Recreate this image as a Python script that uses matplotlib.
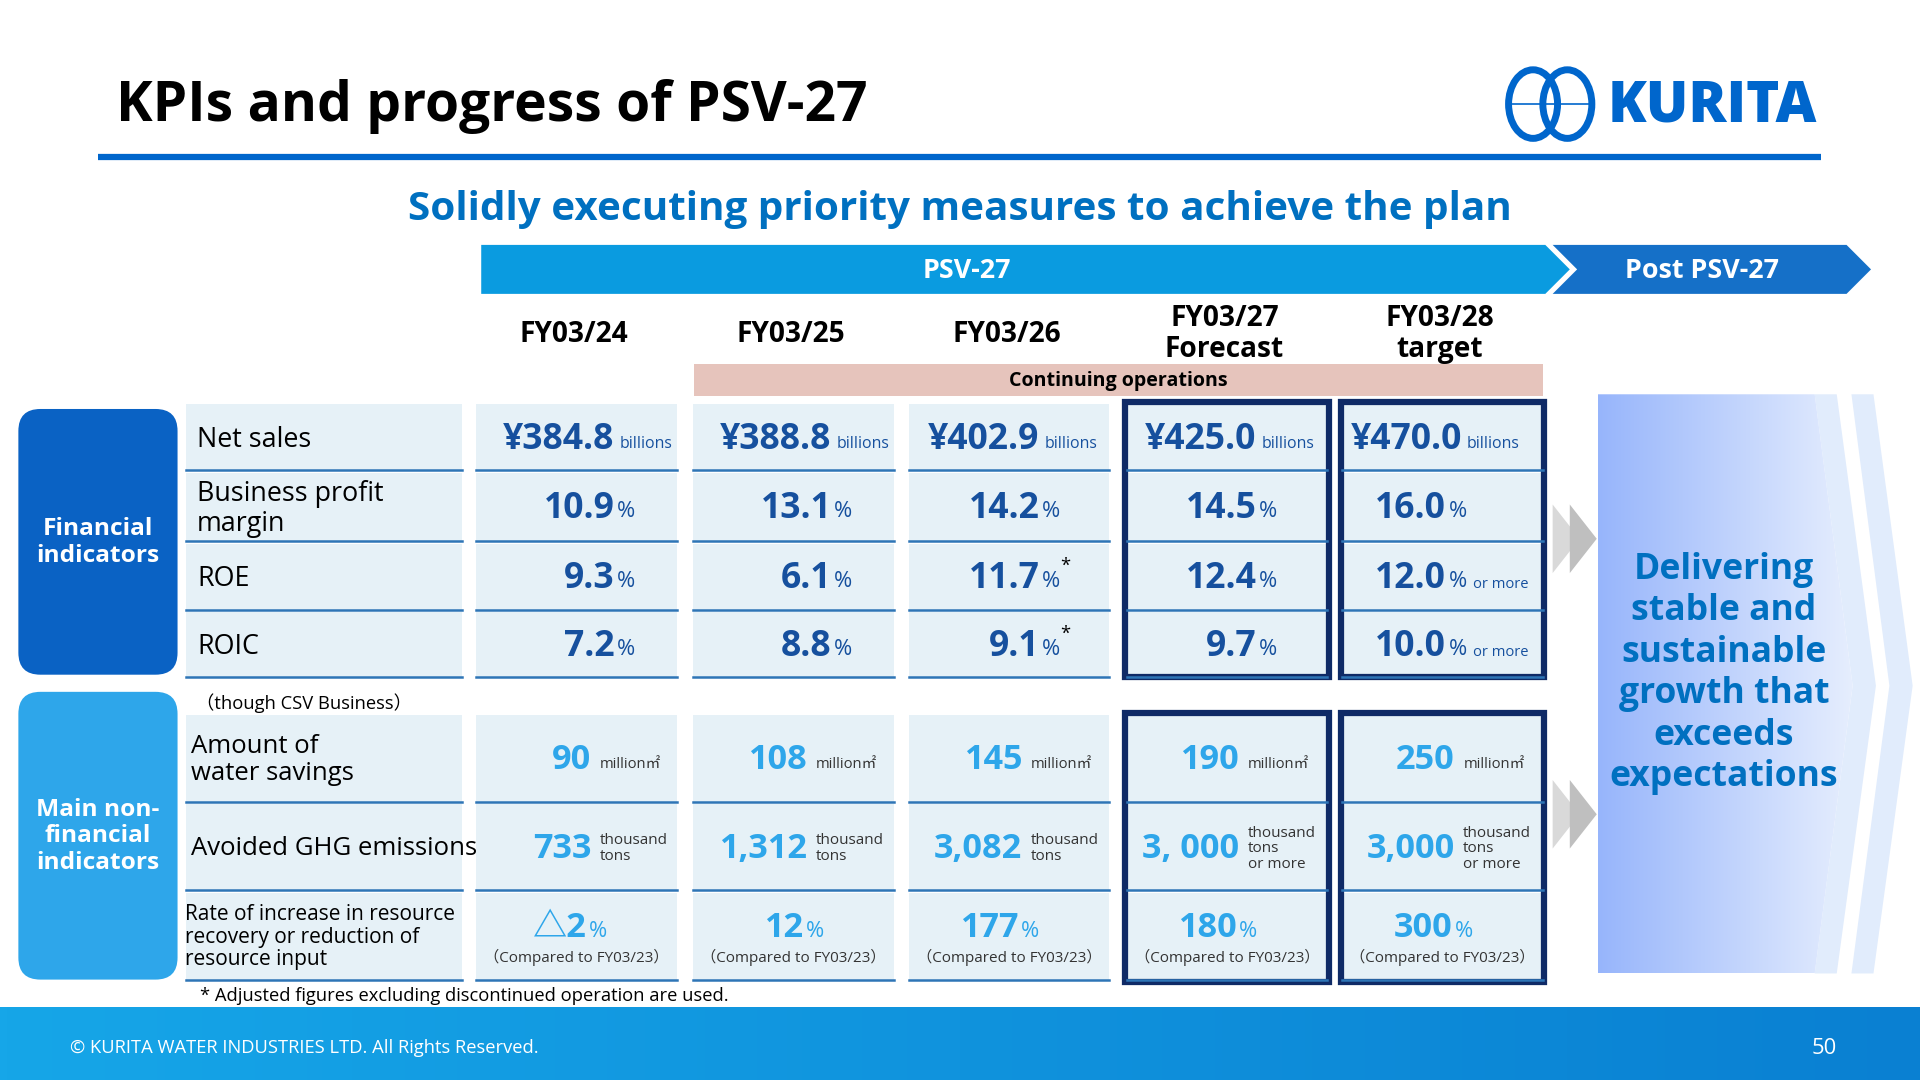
import numpy as np
import matplotlib.pyplot as plt
from matplotlib.patches import Rectangle, FancyBboxPatch, Polygon, Ellipse
from matplotlib.colors import LinearSegmentedColormap

plt.rcParams['font.family'] = ['Open Sans', 'Noto Sans CJK JP', 'DejaVu Sans']

# slide laid out in a 1568 x 882 unit space
W, H = 1568, 882
K = 1920 / W * 72 / 100  # unit px -> pt

NAVY = '#0F2A66'
DARK = '#16509E'
LIGHT = '#2EA6EA'
CELL = '#E6F1F7'
LINE = '#2E75B6'

columns = ['FY03/24', 'FY03/25', 'FY03/26', 'FY03/27\nForecast', 'FY03/28\ntarget']
col_left = [389, 566, 742, 920, 1096]
col_w = 164

fin_labels = ['Net sales', 'Business profit\nmargin', 'ROE', 'ROIC']
fin_values = [['¥384.8', '¥388.8', '¥402.9', '¥425.0', '¥470.0'],
              ['10.9', '13.1', '14.2', '14.5', '16.0'],
              ['9.3', '6.1', '11.7', '12.4', '12.0'],
              ['7.2', '8.8', '9.1', '9.7', '10.0']]
fin_units = [['billions'] * 5,
             ['%'] * 5,
             ['%', '%', '%*', '%', '% or more'],
             ['%', '%', '%*', '%', '% or more']]
fin_rows = [(330, 384), (386, 442), (444, 498), (500, 553)]

non_labels = ['Amount of\nwater savings', 'Avoided GHG emissions',
              'Rate of increase in resource\nrecovery or reduction of\nresource input']
water = ['90', '108', '145', '190', '250']
ghg = ['733', '1,312', '3,082', '3, 000', '3,000']
ghg_units = ['thousand\ntons', 'thousand\ntons', 'thousand\ntons',
             'thousand\ntons\nor more', 'thousand\ntons\nor more']
rate = ['△2', '12', '177', '180', '300']
non_rows = [(584, 655), (657, 727), (729, 800)]

fig = plt.figure(figsize=(19.2, 10.8), dpi=100)
ax = fig.add_axes([0, 0, 1, 1])
ax.set_xlim(0, W)
ax.set_ylim(H, 0)
ax.axis('off')


def txt(x, y, s, size, **kw):
    kw.setdefault('va', 'center')
    ax.text(x, y + 3, s, fontsize=size * K, **kw)


# header
txt(95, 84, 'KPIs and progress of PSV-27', 45, weight='bold', color='black')
ax.plot([80, 1487], [128, 128], color='#0066CC', lw=4.5, solid_capstyle='butt')
for cx in (1252, 1280):
    ax.add_patch(Ellipse((cx, 85), 40, 56, fill=False, ec='#0066CC', lw=5))
ax.plot([1234, 1298], [85, 85], color='#0066CC', lw=1.2)
txt(1398, 84, 'KURITA', 46, weight='heavy', color='#0066CC', ha='center')
txt(784, 168, 'Solidly executing priority measures to achieve the plan', 33,
    weight='bold', color='#0070C0', ha='center')

# PSV bars
ax.add_patch(Polygon([(393, 200), (1262, 200), (1282, 220), (1262, 240), (393, 240)],
                     color='#0A9BE0', lw=0))
ax.add_patch(Polygon([(1268, 200), (1508, 200), (1528, 220), (1508, 240), (1268, 240),
                      (1288, 220)], color='#1570C8', lw=0))
txt(790, 218, 'PSV-27', 22, weight='bold', color='white', ha='center')
txt(1390, 218, 'Post PSV-27', 22, weight='bold', color='white', ha='center')

for i, c in enumerate(columns):
    txt(col_left[i] + col_w / 2 - 2, 270, c, 23, weight='bold', color='black',
        ha='center', linespacing=1.1)
ax.add_patch(Rectangle((567, 297), 693, 26, color='#E6C4BC', lw=0))
txt(913, 308, 'Continuing operations', 16, weight='bold', color='black', ha='center')

# group boxes
ax.add_patch(FancyBboxPatch((15 + 18, 334 + 18), 130 - 36, 217 - 36,
                            boxstyle='round,pad=18', color='#0A62C4', lw=0))
txt(80, 440, 'Financial\nindicators', 20, weight='bold', color='white', ha='center',
    linespacing=1.15)
ax.add_patch(FancyBboxPatch((15 + 18, 565 + 18), 130 - 36, 235 - 36,
                            boxstyle='round,pad=18', color=LIGHT, lw=0))
txt(80, 680, 'Main non-\nfinancial\nindicators', 20, weight='bold', color='white',
    ha='center', linespacing=1.15)


def cell(x0, w, y0, y1):
    ax.add_patch(Rectangle((x0, y0), w, y1 - y0, color=CELL, lw=0))
    ax.plot([x0, x0 + w], [y1, y1], color=LINE, lw=1.8)


# financial rows
split = [502, 679, 849, 1026, 1181]
for r, (y0, y1) in enumerate(fin_rows):
    cell(152, 225, y0, y1)
    ym = (y0 + y1) / 2
    txt(161, ym - 1, fin_labels[r], 22, color='black', linespacing=1.1)
    for i in range(5):
        cell(col_left[i], col_w, y0, y1)
        sp = split[i] if r > 0 else [502, 679, 849, 1026, 1194][i]
        txt(sp, ym - 1, fin_values[r][i], 29, weight='bold', color=DARK, ha='right')
        u = fin_units[r][i]
        if u == 'billions':
            txt(sp + 4, ym + 3, u, 13, color=DARK)
        elif u.startswith('% or'):
            txt(sp + 2, ym + 1, '%', 18, color=DARK)
            txt(sp + 22, ym + 3, 'or more', 12, color=DARK)
        elif u == '%*':
            txt(sp + 2, ym + 1, '%', 18, color=DARK)
            txt(sp + 17, ym - 12, '*', 15, color='black')
        else:
            txt(sp + 2, ym + 1, u, 18, color=DARK)

txt(160, 571, '（though CSV Business）', 15, color='black')

# non-financial rows
wsplit = [483, 659, 835, 1012, 1188]
for r, (y0, y1) in enumerate(non_rows):
    cell(152, 225, y0, y1)
    ym = (y0 + y1) / 2
    txt(156 if r < 2 else 151, ym - 2, non_labels[r], 21 if r < 2 else 17, color='black',
        linespacing=1.1)
    for i in range(5):
        cell(col_left[i], col_w, y0, y1)
for i in range(5):
    ym = sum(non_rows[0]) / 2
    txt(wsplit[i], ym - 2, water[i], 28, weight='bold', color=LIGHT, ha='right')
    txt(wsplit[i] + 7, ym + 2, 'million㎡', 12, color='#333333')
    ym = sum(non_rows[1]) / 2
    txt(wsplit[i], ym - 2, ghg[i], 28, weight='bold', color=LIGHT, ha='right')
    txt(wsplit[i] + 7, ym - 2, ghg_units[i], 12.5, color='#333333', linespacing=1.05)
    cx = col_left[i] + col_w / 2
    txt(cx + 8, 755, rate[i], 28, weight='bold', color=LIGHT, ha='right')
    txt(cx + 10, 758, '%', 18, color=LIGHT)
    txt(cx, 779, '（Compared to FY03/23）', 12.5, color='#333333', ha='center')

# bold frames
for x0 in (920, 1096):
    ax.add_patch(Rectangle((x0 - 1, 328), col_w + 2, 225, fill=False, ec=NAVY, lw=4.5))
    ax.add_patch(Rectangle((x0 - 1, 582), col_w + 2, 220, fill=False, ec=NAVY, lw=4.5))

# arrows into right panel
for yc in (440, 665):
    ax.add_patch(Polygon([(1268, yc - 28), (1290, yc), (1268, yc + 28)], color='#D9D9D9', lw=0))
    ax.add_patch(Polygon([(1282, yc - 28), (1304, yc), (1282, yc + 28)], color='#BFBFBF', lw=0))

# right panel
for dx in (0, 30):
    ax.add_patch(Polygon([(1482 + dx, 322), (1500 + dx, 322), (1532 + dx, 560),
                          (1500 + dx, 795), (1482 + dx, 795), (1513 + dx, 560)],
                         color='#E1ECFC', lw=0))
panel = Polygon([(1305, 322), (1482, 322), (1513, 560), (1482, 795), (1305, 795)],
                fc='none', ec='none')
ax.add_patch(panel)
grad = np.linspace(0, 1, 256).reshape(1, -1)
cmap = LinearSegmentedColormap.from_list('g', ['#97B5FB', '#E6EEFE'])
im = ax.imshow(grad, cmap=cmap, extent=[1305, 1513, 795, 322], aspect='auto', zorder=1)
im.set_clip_path(panel)
ax.text(1408, 550, 'Delivering\nstable and\nsustainable\ngrowth that\nexceeds\nexpectations',
        fontsize=29 * K, weight='bold', color='#0070C0', ha='center', va='center',
        linespacing=1.2, zorder=3)

txt(163, 810, '* Adjusted figures excluding discontinued operation are used.', 15, color='black')

# footer
cmap2 = LinearSegmentedColormap.from_list('f', ['#16A6E8', '#0A80D2'])
ax.imshow(grad, cmap=cmap2, extent=[0, W, 882, 823], aspect='auto', zorder=1)
txt(57, 853, '© KURITA WATER INDUSTRIES LTD. All Rights Reserved.', 15, color='white', zorder=3)
txt(1490, 853, '50', 18, color='white', ha='center', zorder=3)

ax.set_xlim(0, W)
ax.set_ylim(H, 0)
fig.savefig('out.png', dpi=100)
